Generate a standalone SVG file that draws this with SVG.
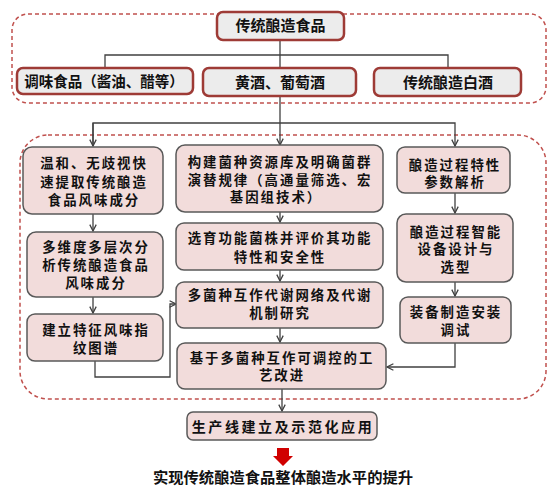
<svg xmlns="http://www.w3.org/2000/svg" width="560" height="497" viewBox="0 0 560 497">
<style>
.zone{fill:none;stroke:#c0504d;stroke-width:1.5;stroke-dasharray:4 3}
.cat{fill:#ececec;stroke:#9e3b36;stroke-width:2.5}
.box{fill:#f2dcdb;stroke:#595959;stroke-width:1.5}
.ln{fill:none;stroke:#404040;stroke-width:1.3}
.t{font-family:"Noto Sans CJK SC","Noto Sans",sans-serif;font-weight:bold;fill:#111;text-anchor:middle}
.c{font-size:14.5px}
.b{font-size:13.4px;letter-spacing:2px}
.p{font-size:14px;letter-spacing:2.6px}
.f{font-size:15.3px;font-weight:bold}
</style>
<defs>
<marker id="ah" viewBox="0 0 10 10" refX="9" refY="5" markerWidth="8" markerHeight="8" markerUnits="userSpaceOnUse" orient="auto">
<path d="M1,1 L9,5 L1,9" fill="none" stroke="#404040" stroke-width="1.6"/>
</marker>
</defs>
<rect class="zone" x="12" y="14" width="534" height="89" rx="16"/>
<rect class="zone" x="20" y="135" width="526" height="264" rx="28"/>
<g id="connectors">
<path class="ln" d="M280,40 V68"/>
<path class="ln" d="M105,68 V55 H448 V68"/>
<path class="ln" d="M280,96 V145" marker-end="url(#ah)"/>
<path class="ln" d="M93,146 V123 H455 V146" marker-end="url(#ah)"/>
<path class="ln" d="M93,123 V146" marker-end="url(#ah)"/>
<path class="ln" d="M93,214 V231" marker-end="url(#ah)"/>
<path class="ln" d="M93,297 V313" marker-end="url(#ah)"/>
<path class="ln" d="M95,361 V377 H170 V304 H176" marker-end="url(#ah)"/>
<path class="ln" d="M280,212 V222" marker-end="url(#ah)"/>
<path class="ln" d="M280,270 V281" marker-end="url(#ah)"/>
<path class="ln" d="M280,328 V342" marker-end="url(#ah)"/>
<path class="ln" d="M455,193 V213" marker-end="url(#ah)"/>
<path class="ln" d="M455,282 V296" marker-end="url(#ah)"/>
<path class="ln" d="M455,343 V367 H387" marker-end="url(#ah)"/>
<path class="ln" d="M282,389 V411" marker-end="url(#ah)"/>
</g>
<g id="n-top"><rect class="cat" x="217" y="12" width="127" height="28" rx="6"/><text class="t" x="280.5" y="31" font-size="15">传统酿造食品</text></g>
<g id="n-cond"><rect class="cat" x="17" y="68" width="176" height="26" rx="6"/><text class="t c" x="104" y="87">调味食品（酱油、醋等）</text></g>
<g id="n-wine"><rect class="cat" x="203" y="68" width="153" height="28" rx="6"/><text class="t" x="280" y="88" font-size="15">黄酒、葡萄酒</text></g>
<g id="n-baijiu"><rect class="cat" x="374" y="68" width="147" height="28" rx="6"/><text class="t" x="448" y="88" font-size="15">传统酿造白酒</text></g>
<g id="n-l1"><rect class="box" x="23" y="147" width="140" height="67" rx="9"/><text class="t b"><tspan x="94" y="168">温和、无歧视快</tspan><tspan x="94" y="187">速提取传统酿造</tspan><tspan x="94" y="205">食品风味成分</tspan></text></g>
<g id="n-l2"><rect class="box" x="27" y="232" width="136" height="65" rx="9"/><text class="t b"><tspan x="96" y="252">多维度多层次分</tspan><tspan x="96" y="270">析传统酿造食品</tspan><tspan x="96" y="288">风味成分</tspan></text></g>
<g id="n-l3"><rect class="box" x="27" y="314" width="136" height="47" rx="8"/><text class="t b"><tspan x="96" y="335">建立特征风味指</tspan><tspan x="96" y="353">纹图谱</tspan></text></g>
<g id="n-m1"><rect class="box" x="176" y="145" width="207" height="67" rx="9"/><text class="t b"><tspan x="280" y="167">构建菌种资源库及明确菌群</tspan><tspan x="280" y="185">演替规律（高通量筛选、宏</tspan><tspan x="276" y="202">基因组技术）</tspan></text></g>
<g id="n-m2"><rect class="box" x="176" y="223" width="207" height="47" rx="8"/><text class="t b"><tspan x="280" y="243">选育功能菌株并评价其功能</tspan><tspan x="280" y="262">特性和安全性</tspan></text></g>
<g id="n-m3"><rect class="box" x="176" y="282" width="207" height="46" rx="8"/><text class="t b"><tspan x="280" y="300">多菌种互作代谢网络及代谢</tspan><tspan x="280" y="318">机制研究</tspan></text></g>
<g id="n-m4"><rect class="box" x="177" y="343" width="209" height="46" rx="8"/><text class="t b"><tspan x="282" y="363">基于多菌种互作可调控的工</tspan><tspan x="282" y="380">艺改进</tspan></text></g>
<g id="n-r1"><rect class="box" x="397" y="147" width="113" height="46" rx="8"/><text class="t b"><tspan x="455" y="170">酿造过程特性</tspan><tspan x="455" y="187">参数解析</tspan></text></g>
<g id="n-r2"><rect class="box" x="397" y="214" width="116" height="68" rx="9"/><text class="t b"><tspan x="456" y="237">酿造过程智能</tspan><tspan x="456" y="254">设备设计与</tspan><tspan x="456" y="272">选型</tspan></text></g>
<g id="n-r3"><rect class="box" x="400" y="297" width="111" height="46" rx="8"/><text class="t b"><tspan x="456" y="317">装备制造安装</tspan><tspan x="456" y="335">调试</tspan></text></g>
<g id="n-prod"><rect class="box" x="187" y="412" width="190" height="28" rx="6"/><text class="t p" x="283" y="432">生产线建立及示范化应用</text></g>
<g id="n-result">
<path d="M277,448 H289 V456 H293 L283,466 L273,456 H277 Z" fill="#d00000"/>
<text class="t f" x="283" y="483">实现传统酿造食品整体酿造水平的提升</text>
</g>
</svg>
